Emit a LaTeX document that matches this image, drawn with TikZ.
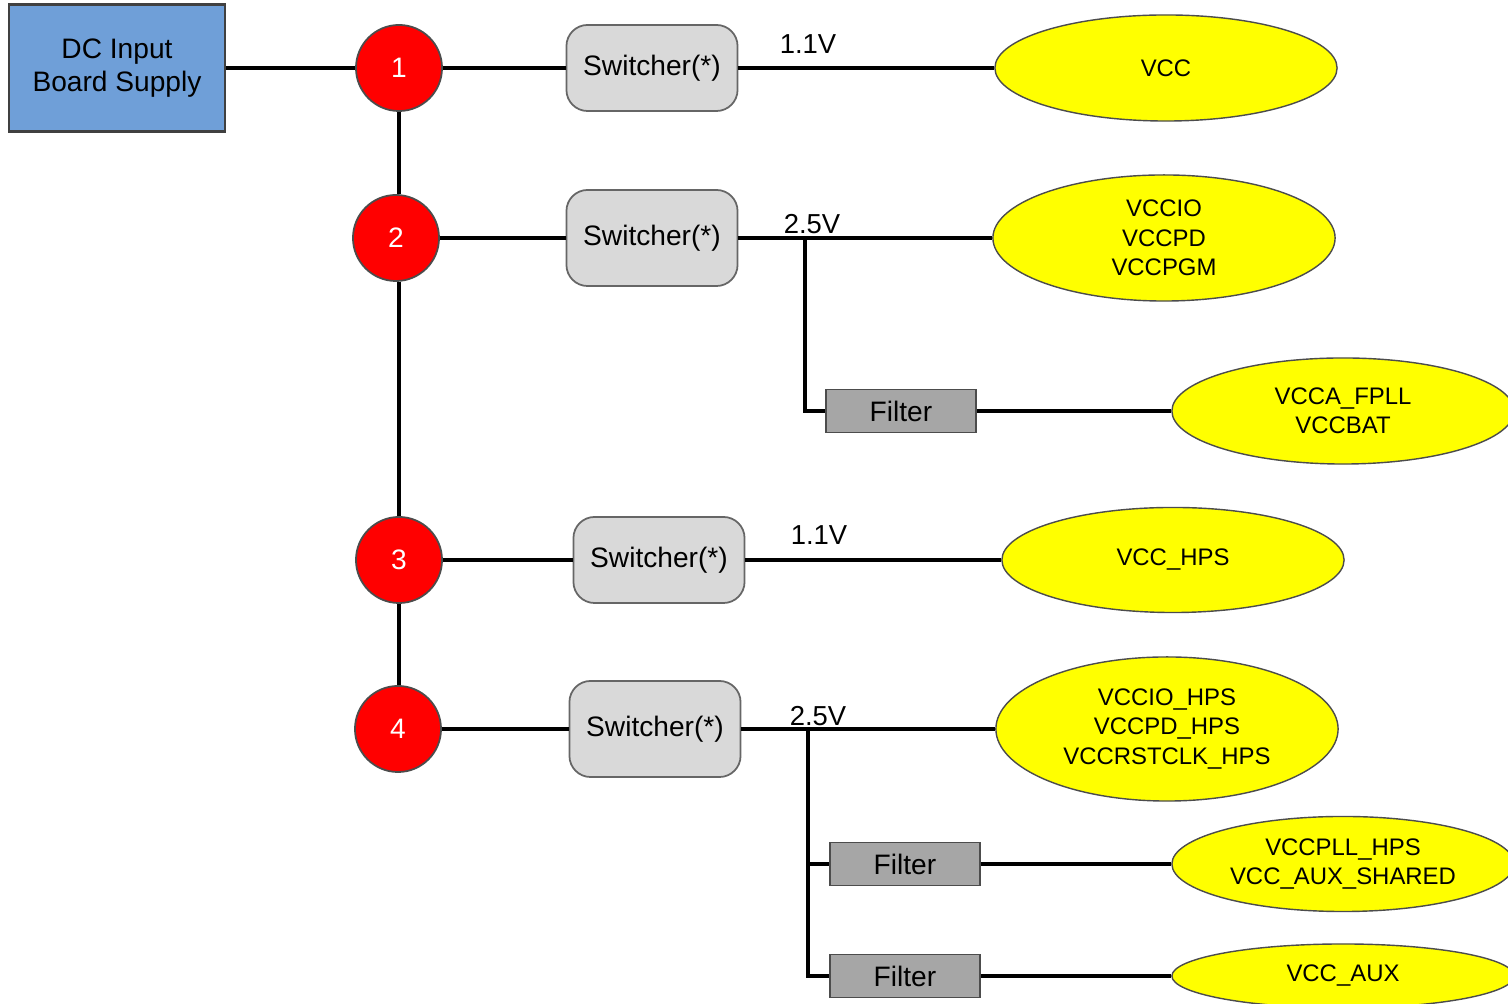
\documentclass[tikz,border=0pt]{standalone}
\usepackage{fontspec}
\setmainfont{Liberation Sans}
\usetikzlibrary{shapes.geometric,positioning}
\definecolor{srcblue}{HTML}{6F9FD8}
\definecolor{swgray}{HTML}{D9D9D9}
\definecolor{fltgray}{HTML}{A6A6A6}
\definecolor{loadyellow}{HTML}{FFFF00}
\tikzset{
  wire/.style={line width=0.9pt, black},
  source/.style={rectangle, draw=black!75, fill=srcblue, line width=0.6pt,
    minimum width=2.15cm, minimum height=1.27cm, align=center,
    font=\fontsize{8}{9.4}\selectfont},
  rail/.style={circle, draw=black!70, fill=red, text=white, line width=0.5pt,
    minimum size=0.86cm, inner sep=0pt, font=\fontsize{8}{9}\selectfont},
  switcher/.style={rectangle, rounded corners=6pt, draw=black!60, fill=swgray,
    line width=0.5pt, minimum width=1.71cm, minimum height=0.86cm,
    font=\fontsize{8}{9}\selectfont},
  filterbox/.style={rectangle, draw=black!70, fill=fltgray, line width=0.5pt,
    minimum width=1.5cm, minimum height=0.43cm, inner sep=0pt,
    font=\fontsize{8}{9}\selectfont},
  load/.style={ellipse, draw=black!70, fill=loadyellow, line width=0.4pt,
    minimum width=3.42cm, inner sep=0pt, align=center,
    font=\fontsize{6.8}{8.4}\selectfont},
  volt/.style={font=\fontsize{7.8}{9}\selectfont, inner sep=1pt}
}
\begin{document}
\begin{tikzpicture}[x=0.01cm, y=-0.01cm]
  % --- Page frame ---
  \useasboundingbox (0,0) rectangle (1508,1004);
  \clip (0,0) rectangle (1508,1004);
  \fill[white] (0,0) rectangle (1508,1004);

  % --- 1. Board supply and rails ---
  \node[source] (dc) at (117,68) {DC Input\\Board Supply};
  \node[rail] (c1) at (399,68) {1};
  \node[rail] (c2) at (396,238) {2};
  \node[rail] (c3) at (399,560) {3};
  \node[rail] (c4) at (398,729) {4};

  % --- 2. Switchers ---
  \node[switcher] (sw1) at (652,68) {Switcher(*)};
  \node[switcher, minimum height=0.96cm] (sw2) at (652,238) {Switcher(*)};
  \node[switcher] (sw3) at (659,560) {Switcher(*)};
  \node[switcher, minimum height=0.96cm] (sw4) at (655,729) {Switcher(*)};

  % --- 3. Filters ---
  \node[filterbox] (f1) at (901,411) {Filter};
  \node[filterbox] (f2) at (905,864) {Filter};
  \node[filterbox] (f3) at (905,976) {Filter};

  % --- 4. Loads ---
  \node[load, minimum height=1.06cm] (vcc) at (1166,68) {VCC};
  \node[load, minimum height=1.26cm] (vccio) at (1164,238) {VCCIO\\VCCPD\\VCCPGM};
  \node[load, minimum height=1.06cm] (fpll) at (1343,411) {VCCA\_FPLL\\VCCBAT};
  \node[load, minimum height=1.05cm] (hps) at (1173,560) {VCC\_HPS};
  \node[load, minimum height=1.44cm] (iohps) at (1167,729) {VCCIO\_HPS\\VCCPD\_HPS\\VCCRSTCLK\_HPS};
  \node[load, minimum height=0.95cm] (pll) at (1343,864) {VCCPLL\_HPS\\VCC\_AUX\_SHARED};
  \node[load, minimum height=0.64cm] (aux) at (1343,976) {VCC\_AUX};

  % --- 5. Voltage labels ---
  \node[volt] (v1) at (808,44) {1.1V};
  \node[volt] (v2) at (812,224) {2.5V};
  \node[volt] (v3) at (819,535) {1.1V};
  \node[volt] (v4) at (818,716) {2.5V};

  % --- 6. Wiring ---
  \draw[wire] (dc) -- (c1);
  % straight trunk down the rails
  \draw[wire] (c1.south) -- (c1.south |- c2.north);
  \draw[wire] (c1.south |- c2.south) -- (c3.north);
  \draw[wire] (c3.south) -- (c3.south |- c4.north);
  \draw[wire] (c1) -- (sw1);
  \draw[wire] (c2) -- (sw2);
  \draw[wire] (c3) -- (sw3);
  \draw[wire] (c4) -- (sw4);
  \draw[wire] (sw1) -- (vcc);
  \draw[wire] (sw2) -- (vccio);
  \draw[wire] (sw3) -- (hps);
  \draw[wire] (sw4) -- (iohps);
  \draw[wire] (f1) -- (fpll);
  \draw[wire] (f2) -- (pll);
  \draw[wire] (f3) -- (aux);
  % branches off the 2.5V rails
  \coordinate (j2) at (805,238);
  \coordinate (j4) at (808,729);
  \draw[wire] (j2) |- (f1.west);
  \draw[wire] (j4) |- (f2.west);
  \draw[wire] (j4) |- (f3.west);
\end{tikzpicture}
\end{document}
